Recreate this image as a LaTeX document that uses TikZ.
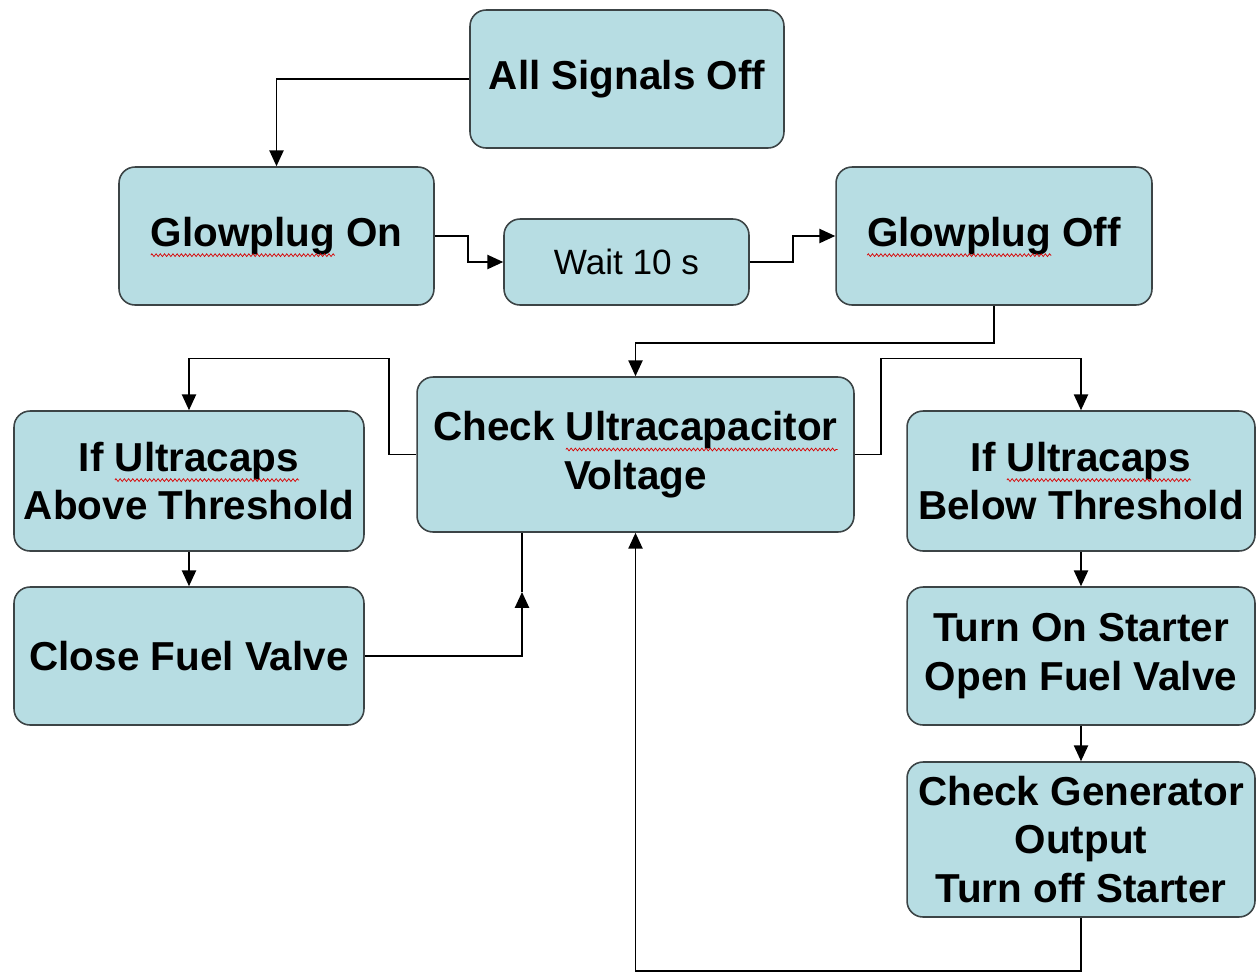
\documentclass[tikz,border=0pt]{standalone}
\usepackage{fontspec}
\setmainfont{Liberation Sans}
\usetikzlibrary{arrows.meta,decorations.pathmorphing}
\definecolor{boxfill}{RGB}{183,221,227}
\definecolor{boxline}{RGB}{60,68,70}
\newsavebox\sqbox
\newlength\sqw
\newcommand\squig[1]{\sbox\sqbox{#1}\setlength\sqw{\wd\sqbox}\leavevmode\rlap{\usebox\sqbox}\tikz[baseline=0pt,x=1cm,y=1cm,sharp corners]{\useasboundingbox (0pt,0pt) rectangle (\sqw,0pt);\draw[red!85!black, line width=0.4pt, sharp corners, decorate, decoration={zigzag, amplitude=0.8pt, segment length=2.4pt}] (0pt,-5pt) -- (\sqw,-5pt);}}
\tikzset{
  stepbox/.style={draw=boxline, line width=0.9pt, fill=boxfill, rounded corners=0.32cm,
    align=center, inner sep=0pt, font=\fontsize{23}{27.5}\selectfont\bfseries},
  conn/.style={line width=1.1pt, black},
  arr/.style={conn, -{Triangle[length=9pt,width=8pt]}}
}
\begin{document}
\begin{tikzpicture}[x=0.02cm,y=-0.02cm]
\useasboundingbox (0,0) rectangle (1257,975);
\node[stepbox, minimum width=6.28cm, minimum height=2.76cm] (sig) at (627,79) {All Signals Off};
\node[stepbox, minimum width=6.30cm, minimum height=2.76cm] (gon) at (276.5,236) {\squig{Glowplug} On};
\node[stepbox, minimum width=4.90cm, minimum height=1.72cm, font=\fontsize{20}{24}\selectfont] (wait) at (626.5,262) {Wait 10 s};
\node[stepbox, minimum width=6.32cm, minimum height=2.76cm] (goff) at (994,236) {\squig{Glowplug} Off};
\node[stepbox, minimum width=8.74cm, minimum height=3.10cm] (chk) at (635.5,454.5) {Check \squig{Ultracapacitor}\\Voltage};
\node[stepbox, minimum width=7.00cm, minimum height=2.80cm] (above) at (189,481) {If \squig{Ultracaps}\\Above Threshold};
\node[stepbox, minimum width=7.00cm, minimum height=2.76cm] (close) at (189,656) {Close Fuel Valve};
\node[stepbox, minimum width=6.96cm, minimum height=2.80cm] (below) at (1081,481) {If \squig{Ultracaps}\\Below Threshold};
\node[stepbox, minimum width=6.96cm, minimum height=2.76cm] (start) at (1081,656) {Turn On Starter\\Open Fuel Valve};
\node[stepbox, minimum width=6.96cm, minimum height=3.10cm] (gen) at (1081,839.5) {Check Generator\\Output\\Turn off Starter};
\coordinate (mid) at (522,592);
\draw[arr] (sig.west) -| (gon.north);
\draw[arr] (gon.east) -- ++(33,0) |- (wait.west);
\draw[arr] (wait.east) -- ++(43,0) |- (goff.west);
\draw[arr] (goff.south) -- ++(0,37) -| (chk.north);
\draw[arr] (chk.west) -- ++(-27,0) -- ++(0,-96) -| (above.north);
\draw[arr] (chk.east) -- ++(26,0) -- ++(0,-96) -| (below.north);
\draw[arr] (above.south) -- (close.north);
\draw[arr] (close.east) -| (mid);
\draw[conn] (mid) -- (mid |- chk.south);
\draw[arr] (below.south) -- (start.north);
\draw[arr] (start.south) -- (gen.north);
\draw[arr] (gen.south) -- ++(0,53) -| (chk.south);
\end{tikzpicture}
\end{document}
